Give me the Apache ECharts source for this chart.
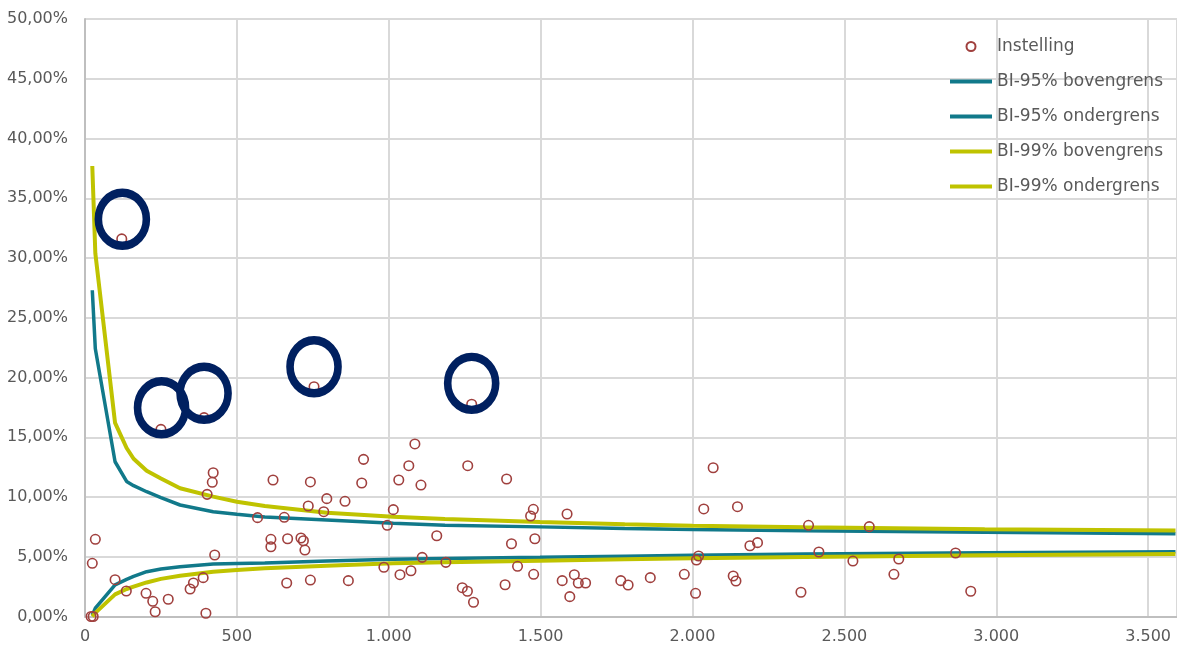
<!DOCTYPE html>
<html>
<head>
<meta charset="utf-8">
<script src="https://cdn.jsdelivr.net/npm/echarts@6/dist/echarts.min.js"></script>
<style>
  html, body { margin: 0; padding: 0; background: #fff; }
  #chart { width: 1177px; height: 650px; }
</style>
</head>
<body>
<div id="chart"></div>
<script>
// instellingen: omvang (x) en percentage (y)
const instX = [20, 27, 24, 34, 99, 121, 136, 201, 223, 231, 250, 274, 346, 357, 389, 392, 398, 402, 419, 422,
  427, 568, 612, 612, 619, 656, 664, 667, 711, 719, 724, 735, 742, 742, 754, 786, 796, 856, 867, 911,
  917, 984, 995, 1015, 1033, 1037, 1066, 1073, 1086, 1106, 1110, 1158, 1188, 1242, 1259, 1260, 1273, 1279, 1383, 1388,
  1404, 1424, 1467, 1476, 1477, 1481, 1571, 1587, 1596, 1611, 1624, 1648, 1764, 1788, 1861, 1973, 2010, 2013, 2020, 2037,
  2068, 2134, 2143, 2148, 2189, 2214, 2357, 2382, 2416, 2528, 2582, 2663, 2679, 2866, 2916];
const instY = [0, 0, 4.45, 6.46, 3.08, 31.6, 2.13, 1.94, 1.27, 0.4, 15.66, 1.44, 2.3, 2.8, 3.25, 16.64, 0.27, 10.22, 11.23, 12.03,
  5.15, 8.27, 6.46, 5.84, 11.42, 8.3, 2.8, 6.51, 6.57, 6.34, 5.56, 9.25, 11.26, 3.05, 19.23, 8.77, 9.86, 9.64, 3.0, 11.17,
  13.15, 4.12, 7.63, 8.94, 11.42, 3.5, 12.62, 3.83, 14.44, 11.0, 4.95, 6.76, 4.53, 2.41, 2.11, 12.62, 17.76, 1.19, 2.66, 11.51,
  6.09, 4.2, 8.41, 8.97, 3.53, 6.51, 3.0, 8.58, 1.66, 3.5, 2.8, 2.8, 3.0, 2.64, 3.25, 3.53, 1.94, 4.73, 5.06, 9.0,
  12.45, 3.39, 2.97, 9.19, 5.92, 6.18, 2.03, 7.63, 5.4, 4.64, 7.52, 3.53, 4.81, 5.31, 2.11];

// betrouwbaarheidsintervallen
const boundX = [24, 34, 99, 137, 160, 203, 250, 313, 422, 500, 592, 796, 1015, 1185, 1498, 1777, 2000, 2370, 2962, 3590];
const bi95Upper = [27.3, 22.4, 12.95, 11.3, 10.95, 10.44, 9.95, 9.33, 8.77, 8.55, 8.33, 8.08, 7.8, 7.64, 7.5, 7.37, 7.29, 7.18, 7.04, 6.92];
const bi95Lower = [0.1, 0.7, 2.65, 3.1, 3.35, 3.75, 3.97, 4.17, 4.39, 4.43, 4.47, 4.65, 4.79, 4.86, 4.95, 5.05, 5.12, 5.22, 5.34, 5.42];
const bi99Upper = [37.7, 30.4, 16.2, 14.1, 13.2, 12.2, 11.55, 10.73, 10.03, 9.6, 9.25, 8.69, 8.35, 8.16, 7.9, 7.72, 7.6, 7.46, 7.3, 7.2];
const bi99Lower = [0, 0.3, 1.85, 2.3, 2.5, 2.85, 3.15, 3.41, 3.75, 3.9, 4.03, 4.25, 4.45, 4.53, 4.67, 4.79, 4.87, 4.98, 5.12, 5.22];

// omcirkelde uitschieters
const markX = [123, 252, 392, 754, 1273];
const markY = [33.24, 17.47, 18.68, 20.9, 19.51];

const zip = (xs, ys) => xs.map((x, i) => [x, ys[i]]);
const font = "DejaVu Sans";
const teal = "#11798a";
const lime = "#bfc300";
const lineIcon = "path://M0,0 H42 V4 H0 Z";

const chart = echarts.init(document.getElementById("chart"), null, { renderer: "canvas" });

const lineSeries = (name, ys, color, width) => ({
  name: name,
  type: "line",
  data: zip(boundX, ys),
  showSymbol: false,
  symbol: "none",
  lineStyle: { color: color, width: width },
  itemStyle: { color: color },
  z: 2,
});

const option = {
  animation: false,
  grid: { left: 85, right: 0, top: 19, bottom: 33.5 },
  xAxis: {
    type: "value",
    min: 0,
    max: 3595,
    interval: 500,
    axisLine: { lineStyle: { color: "#bfbfbf", width: 2 } },
    axisTick: { show: false },
    splitLine: { show: true, lineStyle: { color: "#d9d9d9", width: 2 } },
    axisLabel: {
      margin: 12,
      color: "#595959",
      fontFamily: font,
      fontSize: 16,
      formatter: (v) => String(v).replace(/\B(?=(\d{3})+(?!\d))/g, "."),
    },
  },
  yAxis: {
    type: "value",
    min: 0,
    max: 50,
    interval: 5,
    axisLine: { show: true, lineStyle: { color: "#bfbfbf", width: 2 } },
    axisTick: { show: false },
    splitLine: { lineStyle: { color: "#d9d9d9", width: 2 } },
    axisLabel: {
      margin: 17,
      color: "#595959",
      fontFamily: font,
      fontSize: 16,
      formatter: (v) => v.toFixed(2).replace(".", ",") + "%",
    },
  },
  legend: {
    orient: "vertical",
    left: 950,
    top: 38,
    padding: 0,
    itemWidth: 42,
    itemHeight: 9,
    itemGap: 18,
    textStyle: { color: "#595959", fontFamily: font, fontSize: 17 },
    data: [
      { name: "Instelling", icon: "circle", itemStyle: { color: "rgba(255,255,255,0)", borderColor: "#a0403e", borderWidth: 2 } },
      { name: "BI-95% bovengrens", icon: lineIcon, itemStyle: { color: teal, borderWidth: 0 } },
      { name: "BI-95% ondergrens", icon: lineIcon, itemStyle: { color: teal, borderWidth: 0 } },
      { name: "BI-99% bovengrens", icon: lineIcon, itemStyle: { color: lime, borderWidth: 0 } },
      { name: "BI-99% ondergrens", icon: lineIcon, itemStyle: { color: lime, borderWidth: 0 } },
    ],
  },
  series: [
    lineSeries("BI-95% bovengrens", bi95Upper, teal, 3.5),
    lineSeries("BI-95% ondergrens", bi95Lower, teal, 3.5),
    lineSeries("BI-99% bovengrens", bi99Upper, lime, 4),
    lineSeries("BI-99% ondergrens", bi99Lower, lime, 4),
    {
      name: "Instelling",
      type: "scatter",
      data: zip(instX, instY),
      symbol: "circle",
      symbolSize: 9.5,
      itemStyle: { color: "rgba(255,255,255,0)", borderColor: "#a0403e", borderWidth: 1.6, opacity: 1 },
      z: 3,
    },
    {
      name: "markering",
      type: "scatter",
      data: zip(markX, markY),
      symbol: "circle",
      symbolSize: [48, 53],
      itemStyle: { color: "rgba(255,255,255,0)", borderColor: "#002060", borderWidth: 8, opacity: 1 },
      silent: true,
      z: 4,
    },
  ],
};

chart.setOption(option);
</script>
</body>
</html>
